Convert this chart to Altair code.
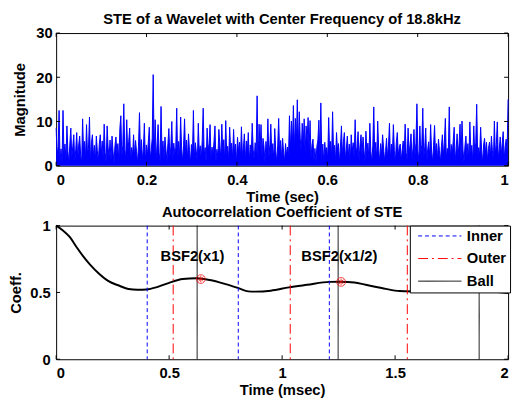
import altair as alt
import pandas as pd

# ---------------- data ----------------
# Top panel: short-time energy (STE) samples over 0..1 s
ste = [
 8.5, 2.1, 4.3, 12.5, 1.0, 3.8, 0.7, 12.5, 2.6, 4.9, 1.4, 9.0, 3.2, 0.5, 5.1, 8.5, 1.8, 4.4, 7.0, 0.9,
 3.6, 7.5, 1.3, 4.7, 6.7, 2.4, 0.6, 10.6, 3.1, 5.5, 1.7, 9.3, 2.8, 4.0, 11.0, 0.8, 5.2, 7.0, 2.2, 4.6,
 1.1, 6.7, 3.4, 0.9, 4.8, 7.0, 2.5, 5.6, 1.6, 9.4, 3.0, 0.7, 9.0, 4.2, 2.0, 5.8, 1.2, 6.7, 3.3, 0.5,
 4.5, 6.5, 2.7, 5.0, 1.0, 8.4, 11.3, 2.1, 4.6, 14.0, 3.7, 1.5, 10.4, 2.9, 5.4, 8.5, 0.8, 4.1, 2.3, 7.0,
 1.9, 5.7, 3.2, 0.6, 4.4, 12.0, 2.6, 5.9, 1.4, 3.9, 9.6, 0.9, 4.7, 2.2, 5.3, 8.7, 1.6, 3.5, 6.2, 20.6,
 2.4, 10.4, 1.1, 4.9, 9.3, 3.0, 0.7, 13.4, 2.8, 5.6, 1.5, 6.5, 3.6, 0.9, 5.0, 8.4, 2.1, 4.3, 10.0, 1.2,
 5.1, 2.7, 4.0, 13.0, 0.8, 5.5, 2.3, 11.0, 3.8, 1.0, 4.6, 10.6, 2.5, 5.8, 1.3, 7.2, 3.4, 0.6, 4.8, 2.0,
 12.5, 1.7, 5.2, 3.1, 0.9, 9.6, 2.9, 4.5, 1.4, 5.7, 13.0, 2.2, 4.1, 0.7, 8.5, 3.3, 5.0, 9.3, 1.8, 4.2,
 2.6, 5.4, 9.0, 1.0, 3.7, 2.0, 8.2, 4.6, 1.5, 9.4, 3.0, 5.9, 0.8, 10.2, 2.4, 4.4, 1.2, 8.7, 3.5, 5.1,
 1.6, 8.2, 2.8, 4.9, 0.6, 6.4, 3.2, 5.3, 1.9, 8.8, 2.5, 4.0, 7.2, 1.1, 5.6, 3.0, 7.5, 0.9, 4.7, 2.3,
 9.6, 3.6, 1.4, 5.2, 2.7, 15.8, 1.0, 9.4, 3.9, 9.3, 2.1, 6.2, 4.4, 0.8, 5.5, 2.9, 10.6, 1.7, 4.8, 9.4,
 2.2, 5.0, 1.3, 8.4, 3.4, 0.7, 4.6, 10.7, 2.6, 5.7, 1.5, 6.2, 3.1, 0.9, 5.0, 2.4, 4.2, 1.8, 11.3, 3.7,
 10.1, 4.5, 13.6, 3.8, 10.7, 5.2, 14.9, 4.0, 12.2, 6.1, 3.3, 9.6, 4.8, 10.6, 2.9, 9.0, 5.4, 10.9, 3.6, 10.2,
 2.0, 4.7, 6.0, 1.2, 3.9, 0.8, 4.4, 5.8, 10.3, 2.5, 14.2, 1.6, 4.9, 0.7, 5.3, 2.8, 4.1, 1.4, 10.9, 3.2,
 5.5, 1.9, 12.2, 2.7, 4.6, 1.0, 7.5, 3.4, 5.0, 0.6, 4.2, 9.0, 2.3, 5.4, 7.5, 1.5, 3.8, 6.7, 2.1, 4.9,
 0.9, 7.0, 3.1, 5.2, 1.7, 10.4, 2.6, 4.3, 7.7, 1.2, 4.8, 7.0, 2.4, 6.5, 3.5, 0.8, 7.8, 2.9, 5.1, 1.6,
 9.6, 3.3, 0.7, 4.6, 13.3, 2.2, 5.3, 1.4, 10.1, 3.7, 0.9, 5.0, 2.5, 7.0, 4.0, 1.1, 3.2, 6.2, 2.0, 4.5,
 9.6, 1.5, 4.9, 2.7, 9.3, 3.4, 0.8, 5.2, 7.5, 2.3, 4.1, 4.9, 1.0, 3.6, 5.6, 2.1, 9.4, 3.0, 1.3, 8.5,
 2.8, 4.7, 7.2, 1.6, 3.9, 8.2, 2.4, 5.1, 14.0, 3.3, 1.0, 9.0, 2.6, 4.8, 13.0, 1.8, 4.3, 8.5, 0.7, 3.7,
 5.4, 2.0, 9.3, 3.1, 0.9, 4.6, 9.1, 2.5, 5.0, 1.4, 6.0, 3.4, 0.8, 4.4, 7.0, 2.2, 5.3, 10.7, 1.7, 3.9,
 2.9, 13.3, 1.2, 4.8, 2.6, 5.5, 8.7, 0.9, 3.7, 7.2, 2.3, 4.9, 9.4, 1.5, 10.1, 3.6, 0.7, 4.4, 6.7, 2.0,
 5.0, 1.3, 9.9, 3.2, 4.6, 0.8, 9.0, 2.7, 5.2, 13.9, 1.9, 4.1, 2.4, 8.7, 3.5, 0.6, 4.7, 6.2, 2.8, 5.3,
 1.1, 3.9, 5.3, 2.0, 6.7, 3.4, 0.9, 10.1, 2.6, 4.8, 9.9, 1.6, 3.7, 6.5, 2.3, 5.0, 7.7, 1.4, 4.2, 6.0,
 3.1, 15.0,
]
ste_time = [i / (len(ste) - 1) for i in range(len(ste))]

# Bottom panel: autocorrelation coefficient of STE over 0..2 ms
ac_time = [0.0, 0.03, 0.06, 0.09, 0.12, 0.15, 0.19, 0.23, 0.28, 0.32, 0.36, 0.40, 0.45, 0.50,
           0.56, 0.62, 0.68, 0.75, 0.81, 0.85, 0.88, 0.95, 1.03, 1.11, 1.21, 1.26, 1.32, 1.37,
           1.45, 1.52, 1.63, 1.75, 1.89, 2.0]
ac_coef = [1.0, 0.964, 0.915, 0.84, 0.77, 0.708, 0.64, 0.586, 0.55, 0.526, 0.52, 0.522, 0.542, 0.572,
           0.6, 0.606, 0.593, 0.562, 0.53, 0.508, 0.506, 0.513, 0.538, 0.557, 0.579, 0.58, 0.575, 0.557,
           0.53, 0.51, 0.506, 0.505, 0.506, 0.496]

# Fault characteristic frequency lines (ms)
inner_lines = [0.403, 0.806, 1.209]
outer_lines = [0.518, 1.036, 1.554]
ball_lines = [0.624, 1.248, 1.872]
fault_kinds = ["Inner", "Outer", "Ball"]

# Detected peaks
peak_time = [0.64, 1.261]
peak_coef = [0.600, 0.579]

# Annotations
ann_text = ["BSF2(x1)", "BSF2(x1/2)"]
ann_time = [0.603, 1.253]
ann_coef = [0.77, 0.77]

top_xticks = [0, 0.2, 0.4, 0.6, 0.8, 1]
top_yticks = [0, 10, 20, 30]
bot_xticks = [0, 0.5, 1, 1.5, 2]
bot_yticks = [0, 0.5, 1]

# ---------------- styling ----------------
FONT = "Liberation Sans"
FS = 15
W = 460
H_TOP, H_BOT = 135, 136
TICK = 4

ste_df = pd.DataFrame({"t": ste_time, "v": ste})
ac_df = pd.DataFrame({"t": ac_time, "v": ac_coef})
lines_df = pd.DataFrame({
    "t": inner_lines + outer_lines + ball_lines,
    "kind": ["Inner"] * len(inner_lines) + ["Outer"] * len(outer_lines) + ["Ball"] * len(ball_lines),
})
peak_df = pd.DataFrame({"t": peak_time, "v": peak_coef})
ann_df = pd.DataFrame({"t": ann_time, "v": ann_coef, "label": ann_text})


def inward_ticks(xticks, yticks, h):
    """MATLAB-style inward ticks on all four sides of the box."""
    xd = pd.DataFrame({"t": xticks})
    yd = pd.DataFrame({"v": yticks})
    base = dict(color="black", strokeWidth=1)
    return [
        alt.Chart(xd).mark_rule(**base).encode(x="t:Q", y=alt.value(h), y2=alt.value(h - TICK)),
        alt.Chart(xd).mark_rule(**base).encode(x="t:Q", y=alt.value(0), y2=alt.value(TICK)),
        alt.Chart(yd).mark_rule(**base).encode(y="v:Q", x=alt.value(0), x2=alt.value(TICK)),
        alt.Chart(yd).mark_rule(**base).encode(y="v:Q", x=alt.value(W), x2=alt.value(W - TICK)),
    ]


def title(text, offset):
    return alt.Title(text, offset=offset, font=FONT, fontSize=FS, fontWeight="bold",
                     color="black", anchor="middle")


# ---------------- top panel ----------------
top_x = alt.X("t:Q", scale=alt.Scale(domain=[0, 1], nice=False, zero=False),
              axis=alt.Axis(title="Time (sec)", values=top_xticks, format=".1~f", ticks=False,
                            domain=False, grid=False, labelPadding=7, titlePadding=2))
top_y = alt.Y("v:Q", scale=alt.Scale(domain=[0, 30], nice=False, zero=False),
              axis=alt.Axis(title="Magnitude", values=top_yticks, format="d", ticks=False,
                            domain=False, grid=False, labelPadding=4, titlePadding=9))

top_area = alt.Chart(ste_df).mark_area(color="#0000ff", opacity=1).encode(x=top_x, y=top_y)
top_line = alt.Chart(ste_df).mark_line(color="#0000ff", strokeWidth=1).encode(x="t:Q", y="v:Q")

top = alt.layer(top_area, top_line, *inward_ticks(top_xticks, top_yticks, H_TOP)).properties(
    width=W, height=H_TOP,
    title=title("STE of a Wavelet with Center Frequency of 18.8kHz", -0.5),
)

# ---------------- bottom panel ----------------
bot_x = alt.X("t:Q", scale=alt.Scale(domain=[0, 2], nice=False, zero=False),
              axis=alt.Axis(title="Time (msec)", values=bot_xticks, format=".1~f", ticks=False,
                            domain=False, grid=False, labelPadding=7, titlePadding=2))
bot_y = alt.Y("v:Q", scale=alt.Scale(domain=[0, 1], nice=False, zero=False),
              axis=alt.Axis(title="Coeff.", values=bot_yticks, format=".1~f", ticks=False,
                            domain=False, grid=False, labelPadding=6, titlePadding=6))

curve = alt.Chart(ac_df).mark_line(color="black", strokeWidth=2, interpolate="monotone").encode(x=bot_x, y=bot_y)

# legend sample lines: 44 px long strokes starting at the left padding
legend = alt.Legend(
    title=None, orient="none", legendX=W - 100, legendY=0,
    symbolType="M-0.2857,0L6,0", symbolSize=196, symbolStrokeWidth=1,
    labelFont=FONT, labelFontSize=FS, labelFontWeight="bold", labelColor="black",
    fillColor="white", strokeColor="black", padding=3, rowPadding=7,
    cornerRadius=0, labelOffset=40)

rules = alt.Chart(lines_df).mark_rule(strokeWidth=1).encode(
    x=alt.X("t:Q"),
    color=alt.Color("kind:N", scale=alt.Scale(domain=fault_kinds, range=["#0000ff", "#ff0000", "#000000"]),
                    legend=legend),
    strokeDash=alt.StrokeDash("kind:N", scale=alt.Scale(domain=fault_kinds, range=[[4, 3], [10, 4, 2, 4], [1, 0]]),
                              legend=legend),
)

peaks_circle = alt.Chart(peak_df).mark_point(shape="circle", size=80, color="#ff0000", strokeWidth=1, filled=False).encode(
    x="t:Q", y="v:Q")
peaks_star = alt.Chart(peak_df).mark_point(
    shape="M-1,0L1,0M0,-1L0,1M-0.7,-0.7L0.7,0.7M-0.7,0.7L0.7,-0.7", size=50, color="#ff0000",
    strokeWidth=1, filled=False).encode(x="t:Q", y="v:Q")

ann = alt.Chart(ann_df).mark_text(font=FONT, fontSize=FS, fontWeight="bold", color="black",
                                  align="center", baseline="middle").encode(x="t:Q", y="v:Q", text="label:N")

bottom = alt.layer(curve, rules, peaks_circle, peaks_star, ann,
                   *inward_ticks(bot_xticks, bot_yticks, H_BOT)).properties(
    width=W, height=H_BOT,
    title=title("Autocorrelation Coefficient of STE", -1.5),
)

chart = alt.vconcat(top, bottom, spacing=0).resolve_legend(
    color="independent", strokeDash="independent"
).properties(
    padding={"left": 0, "top": 0, "right": 0, "bottom": 0}
).configure_axis(
    labelFont=FONT, labelFontSize=FS, labelFontWeight="bold", labelColor="black",
    titleFont=FONT, titleFontSize=FS, titleFontWeight="bold", titleColor="black", grid=False,
).configure_view(
    stroke="black", strokeWidth=1,
)

chart.save("out.html", embed_options={"renderer": "svg", "actions": False})
